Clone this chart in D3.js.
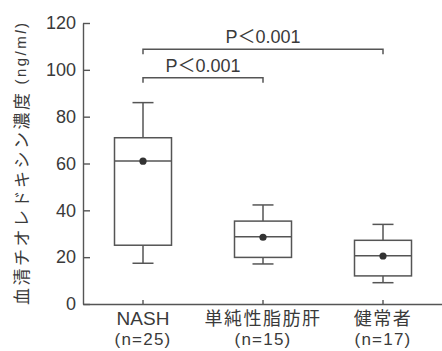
<!DOCTYPE html>
<html>
<head>
<meta charset="utf-8">
<script src="https://cdn.jsdelivr.net/npm/d3@7"></script>
<style>
  body { margin: 0; background: #fff; }
  svg { display: block; }
  text { font-family: "Liberation Sans", Arial, "Noto Sans CJK JP", sans-serif; fill: #3a3a3a; }
  .jp { font-family: "Noto Sans CJK JP", sans-serif; }
  .axis path, .axis line { stroke: #555; stroke-width: 1.4; }
</style>
</head>
<body>
<svg id="chart" width="442" height="351"></svg>
<script>
const groups = ["NASH", "単純性脂肪肝", "健常者"];
const counts = ["(n=25)", "(n=15)", "(n=17)"];
const whiskerLow = [17.4, 17.1, 9.1];
const q1 = [25.1, 19.9, 12.0];
const median = [61.1, 28.7, 20.6];
const q3 = [71.0, 35.4, 27.2];
const whiskerHigh = [86.0, 42.3, 34.0];
const means = [61.0, 28.5, 20.5];
const yTicks = [0, 20, 40, 60, 80, 100, 120];

const compareFrom = ["NASH", "NASH"];
const compareTo = ["健常者", "単純性脂肪肝"];
const compareLevel = [108.8, 96.6];
const compareLabel = ["P＜0.001", "P＜0.001"];

const svg = d3.select("#chart");
const line = "#555";

const x = d3.scaleBand().domain(groups).range([83, 443]);
const y = d3.scaleLinear().domain([0, 120]).range([304, 23]);
const boxW = 57, capW = 21;

const boxes = groups.map((g, i) => ({
  g, lo: whiskerLow[i], q1: q1[i], med: median[i], q3: q3[i], hi: whiskerHigh[i], mean: means[i], n: counts[i]
}));

// axes
svg.append("g").attr("class", "axis")
  .attr("transform", "translate(83,0)")
  .call(d3.axisLeft(y).tickValues(yTicks).tickSizeInner(-7).tickSizeOuter(0).tickPadding(7))
  .call(g => g.selectAll("text").attr("font-size", 18).attr("fill", "#3a3a3a")
    .attr("font-family", "'Liberation Sans', Arial, sans-serif"));

svg.append("g").attr("class", "axis")
  .attr("transform", "translate(0,304)")
  .call(d3.axisBottom(x).tickSizeInner(-4).tickSizeOuter(0).tickFormat(""));

// x labels
const cx = d => x(d.g) + x.bandwidth() / 2;
svg.selectAll("text.cat").data(boxes).join("text")
  .attr("class", d => d.g === "NASH" ? "cat" : "cat jp")
  .attr("x", cx).attr("y", 325)
  .attr("text-anchor", "middle")
  .attr("font-size", d => d.g === "NASH" ? 19 : 18)
  .attr("letter-spacing", d => d.g === "NASH" ? 0 : 1.5)
  .text(d => d.g);

svg.selectAll("text.cnt").data(boxes).join("text")
  .attr("class", "cnt")
  .attr("x", cx).attr("y", 345)
  .attr("text-anchor", "middle")
  .attr("font-size", 17)
  .attr("letter-spacing", 1.2)
  .text(d => d.n);

// y label
const yl = svg.append("text")
  .attr("transform", "translate(20,164) rotate(-90)")
  .attr("text-anchor", "middle")
  .attr("dominant-baseline", "central");
yl.append("tspan").attr("class", "jp").attr("font-size", 17).attr("letter-spacing", 2.5).text("血清チオレドキシン濃度");
yl.append("tspan").attr("font-size", 15).attr("dx", 6).attr("letter-spacing", 2.5).text("(ng/m");
yl.append("tspan").attr("font-size", 15).attr("letter-spacing", 2.5).attr("font-style", "italic").text("l");
yl.append("tspan").attr("font-size", 15).text(")");

// boxes
const bg = svg.append("g").attr("stroke", line).attr("stroke-width", 1.5).attr("fill", "none");
boxes.forEach(d => {
  const c = cx(d);
  bg.append("line").attr("x1", c).attr("x2", c).attr("y1", y(d.hi)).attr("y2", y(d.q3));
  bg.append("line").attr("x1", c).attr("x2", c).attr("y1", y(d.q1)).attr("y2", y(d.lo));
  bg.append("line").attr("x1", c - capW / 2).attr("x2", c + capW / 2).attr("y1", y(d.hi)).attr("y2", y(d.hi));
  bg.append("line").attr("x1", c - capW / 2).attr("x2", c + capW / 2).attr("y1", y(d.lo)).attr("y2", y(d.lo));
  bg.append("rect").attr("x", c - boxW / 2).attr("width", boxW)
    .attr("y", y(d.q3)).attr("height", y(d.q1) - y(d.q3)).attr("fill", "#fff");
  bg.append("line").attr("x1", c - boxW / 2).attr("x2", c + boxW / 2).attr("y1", y(d.med)).attr("y2", y(d.med));
});
svg.selectAll("circle.mean").data(boxes).join("circle")
  .attr("class", "mean")
  .attr("cx", cx).attr("cy", d => y(d.mean)).attr("r", 3.6).attr("fill", "#333");

// significance brackets
compareLabel.forEach((lab, i) => {
  const x1 = x(compareFrom[i]) + x.bandwidth() / 2;
  const x2 = x(compareTo[i]) + x.bandwidth() / 2;
  const yy = y(compareLevel[i]);
  svg.append("path")
    .attr("d", `M${x1},${yy + 5}V${yy}H${x2}V${yy + 5}`)
    .attr("fill", "none").attr("stroke", line).attr("stroke-width", 1.5);
  svg.append("text")
    .attr("x", (x1 + x2) / 2).attr("y", yy - 6)
    .attr("text-anchor", "middle").attr("font-size", 18)
    .text(lab);
});
</script>
</body>
</html>
